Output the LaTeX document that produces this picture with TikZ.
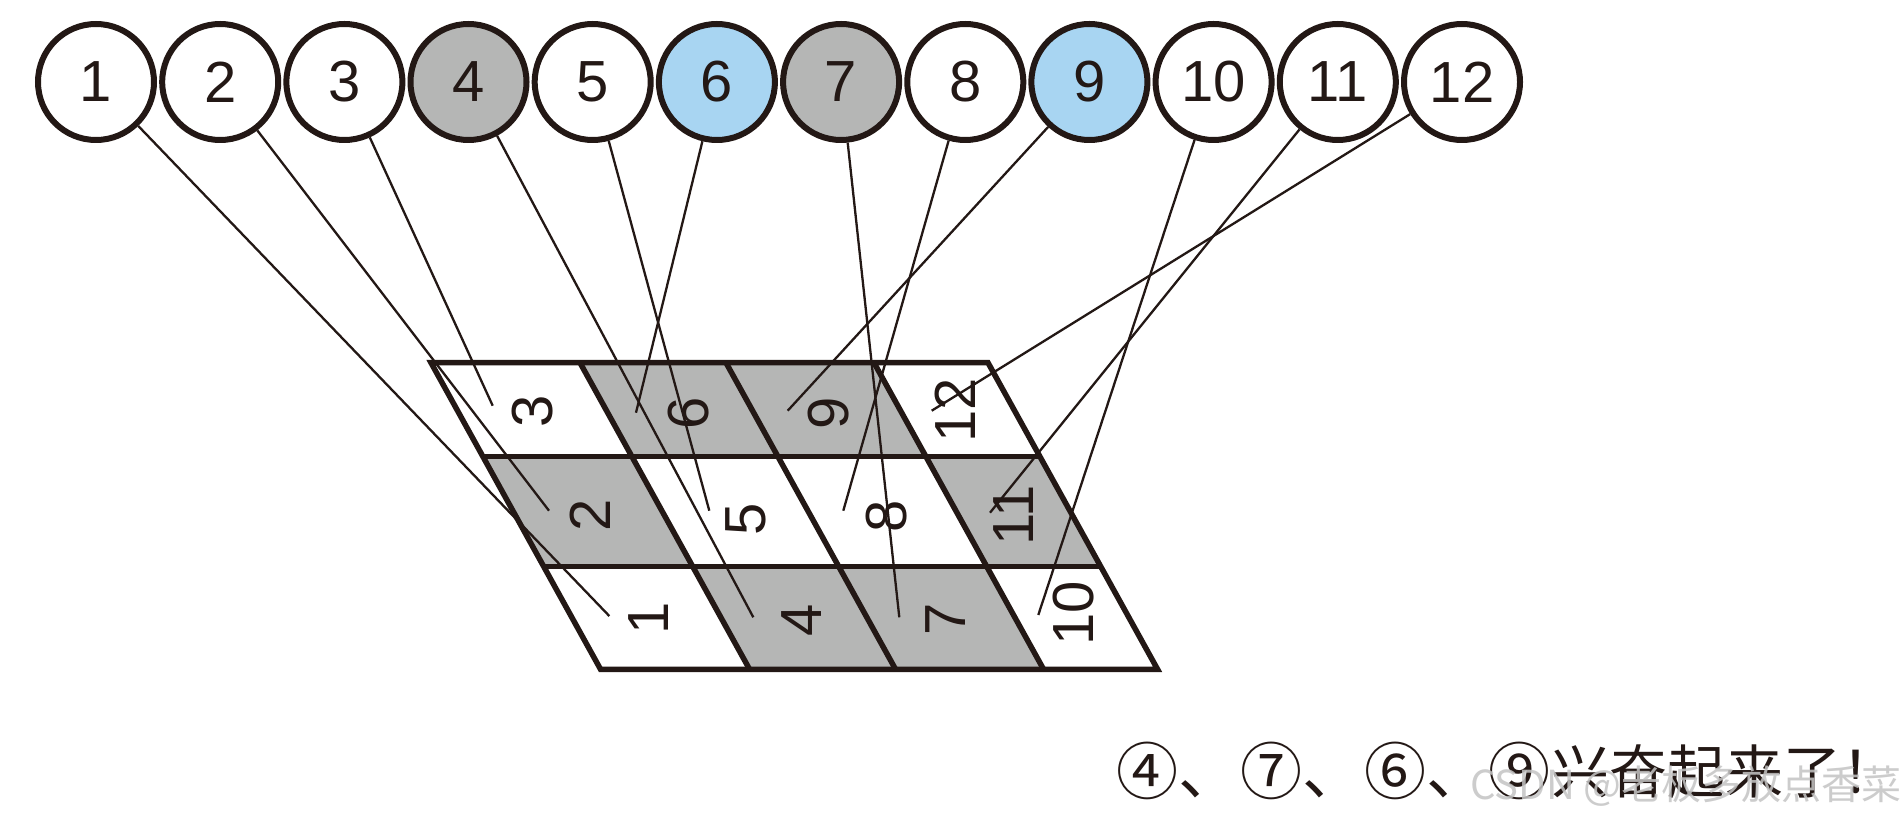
\documentclass[tikz,border=0pt]{standalone}
\usepackage{fontspec}
\setmainfont{Liberation Sans}
\newfontfamily\cjk{Noto Sans CJK SC}
\definecolor{ink}{RGB}{35,24,21}
\definecolor{cellgray}{RGB}{181,182,181}
\definecolor{hiblue}{RGB}{168,213,242}
\definecolor{wmgray}{RGB}{196,196,196}
\begin{document}
\begin{tikzpicture}[x=1pt,y=-1pt,
  ball/.style={circle,draw=ink,line width=6pt,minimum size=116pt,inner sep=0pt,fill=white,text=ink,font=\fontsize{58}{60}\selectfont},
  cellnum/.style={rotate=90,inner sep=0pt,text=ink,font=\fontsize{58}{60}\selectfont},
  conn/.style={draw=ink,line width=2.3pt},
  gridline/.style={draw=ink,line width=5.5pt,line join=miter},
  cellfill/.style={fill=cellgray},
  captext/.style={anchor=base west,inner sep=0pt,text=ink}]
\useasboundingbox (0,0) rectangle (1904,818);
\fill[white] (0,0) rectangle (1904,818);
% grid corner coordinates p-j-i (column boundary j, row boundary i)
\foreach \j/\xa in {0/431,1/580,2/726,3/874,4/988}{
  \foreach \i/\yy in {0/362.7,1/456.7,2/566.7,3/669.3}{
    \coordinate (p-\j-\i) at ({\xa+0.553*(\yy-362.7)},\yy);
  }
}
% gray cells
\foreach \j/\i in {1/0,2/0,0/1,3/1,1/2,2/2}{
  \pgfmathtruncatemacro{\jn}{\j+1}
  \pgfmathtruncatemacro{\in}{\i+1}
  \fill[cellfill] (p-\j-\i) -- (p-\jn-\i) -- (p-\jn-\in) -- (p-\j-\in) -- cycle;
}
% grid lines
\draw[gridline] (p-0-0) -- (p-4-0) -- (p-4-3) -- (p-0-3) -- cycle;
\draw[gridline] (p-0-1) -- (p-4-1);
\draw[gridline] (p-0-2) -- (p-4-2);
\draw[gridline] (p-1-0) -- (p-1-3);
\draw[gridline] (p-2-0) -- (p-2-3);
\draw[gridline] (p-3-0) -- (p-3-3);
% cell labels
\node[cellnum] (n1) at (648.3,618.3) {1};
\node[cellnum] (n2) at (590,515) {2};
\node[cellnum] (n3) at (532.7,411.7) {3};
\node[cellnum] (n4) at (802,620) {4};
\node[cellnum] (n5) at (745.8,519) {5};
\node[cellnum] (n6) at (688.3,413.3) {6};
\node[cellnum] (n7) at (945.8,619) {7};
\node[cellnum] (n8) at (886.7,516) {8};
\node[cellnum] (n9) at (828.3,413.3) {9};
\node[cellnum] (n10) at (1073.3,613.3) {10};
\node[cellnum] (n11) at (1014,515) {11};
\node[cellnum] (n12) at (955,410) {12};
% connector end points
\coordinate (t1) at (609.3,616);
\coordinate (t2) at (549,510.7);
\coordinate (t3) at (492.7,405.7);
\coordinate (t4) at (753.3,617.3);
\coordinate (t5) at (709.3,510.7);
\coordinate (t6) at (636,412.7);
\coordinate (t7) at (899.3,617.3);
\coordinate (t8) at (843.3,510.7);
\coordinate (t9) at (787.7,410.7);
\coordinate (t10) at (1038.3,615);
\coordinate (t11) at (990,512.7);
\coordinate (t12) at (931.7,410.7);
% circles
\node[ball] (c1) at (96,82) {1};
\node[ball] (c2) at (220.2,82) {2};
\node[ball] (c3) at (344.4,82) {3};
\node[ball,fill=cellgray] (c4) at (468.5,82) {4};
\node[ball] (c5) at (592.7,82) {5};
\node[ball,fill=hiblue] (c6) at (716.9,82) {6};
\node[ball,fill=cellgray] (c7) at (841.1,82) {7};
\node[ball] (c8) at (965.3,82) {8};
\node[ball,fill=hiblue] (c9) at (1089.4,82) {9};
\node[ball] (c10) at (1213.6,82) {10};
\node[ball] (c11) at (1337.8,82) {11};
\node[ball] (c12) at (1462,82) {12};
% connectors
\foreach \k in {1,...,12}{
  \draw[conn] (c\k) -- (t\k);
}
% caption
\node[captext,font=\cjk\fontsize{62}{64}\selectfont] (cap1) at (1116,794) {④、⑦、⑥、⑨};
\node[captext,font=\cjk\fontsize{58}{60}\selectfont] (cap2) at (1551,793) {兴奋起来了！};
\node[anchor=base east,inner sep=0pt,text=wmgray,opacity=0.85,font=\cjk\fontsize{40}{42}\selectfont] (wm) at (1902,799) {CSDN @老板多放点香菜};
\end{tikzpicture}
\end{document}
